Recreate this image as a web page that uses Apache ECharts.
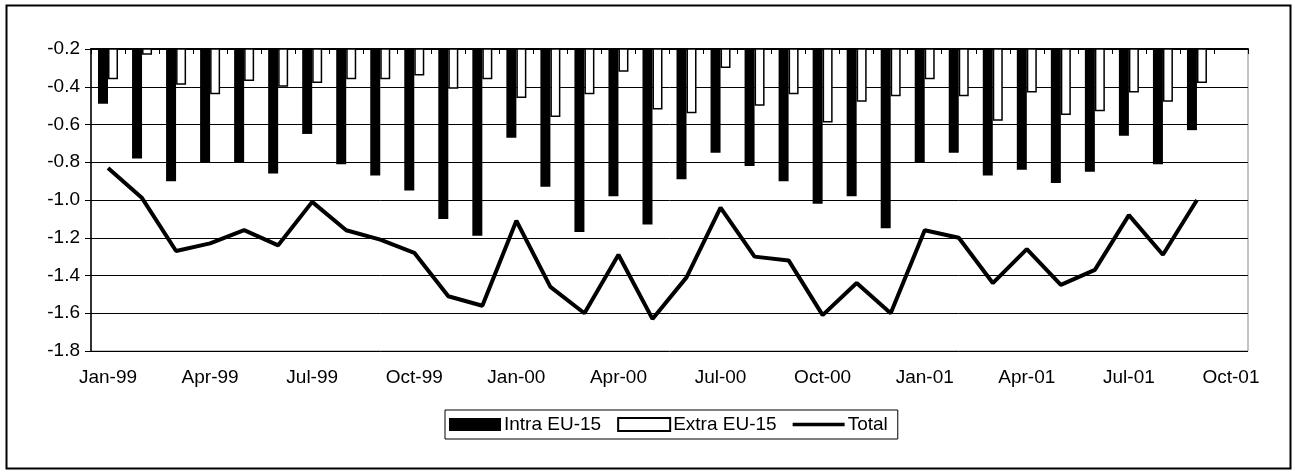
<!DOCTYPE html>
<html>
<head>
<meta charset="utf-8">
<script src="https://cdn.jsdelivr.net/npm/echarts@6/dist/echarts.min.js"></script>
<style>html,body{margin:0;padding:0;background:#fff;}#c{width:1295px;height:474px;}</style>
</head>
<body>
<div id="c"></div>
<script>
const categories = ['Jan-99','Feb-99','Mar-99','Apr-99','May-99','Jun-99','Jul-99','Aug-99','Sep-99','Oct-99','Nov-99','Dec-99',
  'Jan-00','Feb-00','Mar-00','Apr-00','May-00','Jun-00','Jul-00','Aug-00','Sep-00','Oct-00','Nov-00','Dec-00',
  'Jan-01','Feb-01','Mar-01','Apr-01','May-01','Jun-01','Jul-01','Aug-01','Sep-01','Oct-01'];
const intraEU = [-0.49,-0.78,-0.90,-0.80,-0.80,-0.86,-0.65,-0.81,-0.87,-0.95,-1.10,-1.19,
  -0.67,-0.93,-1.17,-0.98,-1.13,-0.89,-0.75,-0.82,-0.90,-1.02,-0.98,-1.15,
  -0.80,-0.75,-0.87,-0.84,-0.91,-0.85,-0.66,-0.81,-0.63];
const extraEU = [-0.36,-0.23,-0.39,-0.44,-0.37,-0.40,-0.38,-0.36,-0.36,-0.34,-0.41,-0.36,
  -0.46,-0.56,-0.44,-0.32,-0.52,-0.54,-0.30,-0.50,-0.44,-0.59,-0.48,-0.45,
  -0.36,-0.45,-0.58,-0.43,-0.55,-0.53,-0.43,-0.48,-0.38];
const total = [-0.83,-0.99,-1.27,-1.23,-1.16,-1.24,-1.01,-1.16,-1.21,-1.28,-1.51,-1.56,
  -1.11,-1.46,-1.60,-1.29,-1.63,-1.41,-1.04,-1.30,-1.32,-1.61,-1.44,-1.60,
  -1.16,-1.20,-1.44,-1.26,-1.45,-1.37,-1.08,-1.29,-1.00];
const yMin = -1.8, yMax = -0.2, yStep = 0.2;

const FONT = 'Liberation Sans, Arial, sans-serif';
const chart = echarts.init(document.getElementById('c'), null, {renderer: 'canvas'});
chart.setOption({
  animation: false,
  backgroundColor: '#fff',
  graphic: [{
    type: 'rect', left: 4, top: 3, shape: {width: 1284, height: 463},
    style: {fill: 'none', stroke: '#000', lineWidth: 2}, z: 0
  }],
  grid: {left: 91, top: 49, right: 47, bottom: 123, show: true, borderColor: '#888', borderWidth: 1, backgroundColor: 'transparent'},
  legend: {
    left: 445, top: 410,
    data: [
      {name: 'Intra EU-15', icon: 'rect'},
      {name: 'Extra EU-15', icon: 'rect'},
      {name: 'Total', icon: 'path://M0,0 L60,0 L60,4 L0,4 Z'}
    ],
    symbolKeepAspect: true,
    borderColor: '#000', borderWidth: 1, padding: [5, 10, 5, 4],
    itemGap: 16, itemWidth: 52, itemHeight: 13,
    textStyle: {fontFamily: FONT, fontSize: 19, color: '#000', padding: [0,0,0,-2]}
  },
  xAxis: [{
    type: 'category', data: categories, position: 'top', boundaryGap: true,
    axisLine: {show: true, lineStyle: {color: '#000', width: 2}},
    axisTick: {show: true, inside: true, length: 5, interval: 0, lineStyle: {color: '#000', width: 1}},
    axisLabel: {show: false}, splitLine: {show: false}
  }, {
    type: 'category', data: categories, position: 'bottom', boundaryGap: true,
    axisLine: {show: false}, axisTick: {show: false},
    axisLabel: {show: true, interval: 2, margin: 17, fontFamily: FONT, fontSize: 19, color: '#000'},
    splitLine: {show: false}
  }],
  yAxis: {
    type: 'value', min: yMin, max: yMax, interval: yStep,
    axisLine: {show: true, onZero: false, lineStyle: {color: '#000', width: 1.5}},
    axisTick: {show: true, length: 6, lineStyle: {color: '#000'}},
    axisLabel: {fontFamily: FONT, fontSize: 19, color: '#000', margin: 11, formatter: v => v.toFixed(1)},
    splitLine: {show: true, lineStyle: {color: '#000', width: 1}}
  },
  series: [{
    name: 'Intra EU-15', type: 'bar', data: intraEU, xAxisIndex: 0,
    barWidth: 10, barGap: '0%', clip: true,
    itemStyle: {color: '#000'}
  }, {
    name: 'Extra EU-15', type: 'bar', data: extraEU, xAxisIndex: 0,
    barWidth: 10, barGap: '0%', clip: true,
    itemStyle: {color: '#fff', borderColor: '#000', borderWidth: 1.5}
  }, {
    name: 'Total', type: 'line', data: total, xAxisIndex: 0,
    symbol: 'none', z: 5,
    lineStyle: {color: '#000', width: 4}, itemStyle: {color: '#000'}
  }]
});
</script>
</body>
</html>
